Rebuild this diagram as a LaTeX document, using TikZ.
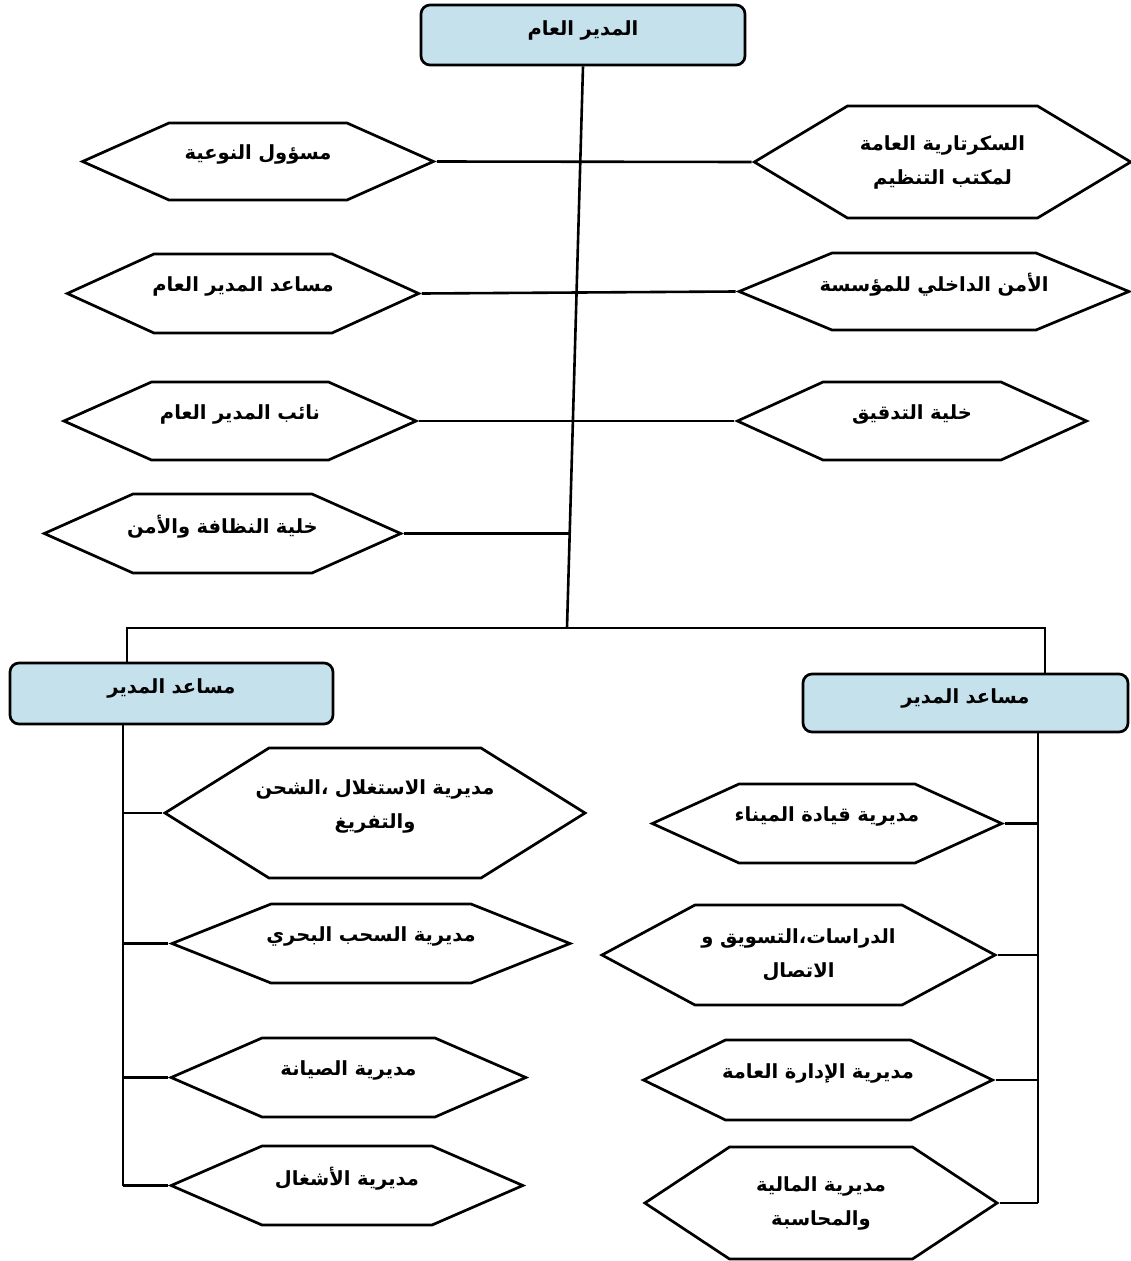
\documentclass[tikz,border=0pt]{standalone}
\usepackage{fontspec}
\newfontfamily\arabicfont[Script=Arabic]{DejaVu Sans}
\TeXXeTstate=1
\usetikzlibrary{shapes.symbols}
\definecolor{boxblue}{RGB}{197,225,235}
\newcommand{\ar}[1]{\makebox[0pt]{\beginR #1\endR}}
\newcommand{\liftgap}[1]{\par\vspace*{#1}}

\begin{document}
\begin{tikzpicture}[x=1pt,y=-1pt]
  \tikzstyle{hexa}=[signal, signal to=west and east, draw, line width=2.7pt, inner xsep=0pt, inner ysep=2pt, align=center, font=\arabicfont\bfseries\fontsize{19.5}{34}\selectfont]
  \tikzstyle{head}=[rectangle, rounded corners=9pt, draw, line width=2.7pt, fill=boxblue, inner xsep=0pt, align=center, font=\arabicfont\bfseries\fontsize{19.5}{34}\selectfont]
  \tikzstyle{lifted}=[execute at end node={\liftgap{14pt}}]
  \tikzstyle{link}=[line width=2.6pt]

  \useasboundingbox (0,0) rectangle (1131,1261);

  \node[head, text width=324, minimum height=60, execute at end node={\liftgap{9pt}}] (gm) at (583,35) {\ar{المدير العام}};

  \node[hexa, lifted, text width=178, minimum height=77, signal pointer angle=48] (nawiyya) at (258,161.5) {\ar{مسؤول النوعية}};
  \node[hexa, text width=190, minimum height=112, signal pointer angle=62] (sec) at (942.5,162) {\ar{السكرتارية العامة}\\\ar{لمكتب التنظيم}};
  \node[hexa, lifted, text width=178, minimum height=79, signal pointer angle=49] (mosaed) at (243,293.5) {\ar{مساعد المدير العام}};
  \node[hexa, lifted, text width=204, minimum height=77, signal pointer angle=45] (amn) at (934,291.5) {\ar{الأمن الداخلي للمؤسسة}};
  \node[hexa, lifted, text width=177, minimum height=78, signal pointer angle=48] (naib) at (240,421) {\ar{نائب المدير العام}};
  \node[hexa, lifted, text width=178, minimum height=78, signal pointer angle=49] (tadqiq) at (912,421) {\ar{خلية التدقيق}};
  \node[hexa, lifted, text width=179, minimum height=79, signal pointer angle=48] (nadhafa) at (222.5,533.5) {\ar{خلية النظافة والأمن}};

  \node[head, text width=323, minimum height=61, execute at end node={\liftgap{10pt}}] (asstL) at (171.5,693.5) {\ar{مساعد المدير}};
  \node[head, text width=325, minimum height=58, execute at end node={\liftgap{9pt}}] (asstR) at (965.5,703) {\ar{مساعد المدير}};

  \node[hexa, lifted, text width=212, minimum height=130, signal pointer angle=64] (istighlal) at (375,813) {\ar{مديرية الاستغلال ،الشحن}\\\ar{والتفريغ}};
  \node[hexa, lifted, text width=200, minimum height=79, signal pointer angle=43.5] (sahb) at (371,943.5) {\ar{مديرية السحب البحري}};
  \node[hexa, lifted, text width=173, minimum height=79, signal pointer angle=47] (siyana) at (348.5,1077.5) {\ar{مديرية الصيانة}};
  \node[hexa, lifted, text width=170, minimum height=79, signal pointer angle=47] (ashghal) at (347,1185.5) {\ar{مديرية الأشغال}};

  \node[hexa, lifted, text width=176, minimum height=79, signal pointer angle=49] (qiyada) at (827,823.5) {\ar{مديرية قيادة الميناء}};
  \node[hexa, text width=207, minimum height=100, signal pointer angle=56.5] (dirasat) at (798.5,955) {\ar{الدراسات،التسويق و}\\\ar{الاتصال}};
  \node[hexa, lifted, text width=185, minimum height=80, signal pointer angle=52] (idara) at (818,1080) {\ar{مديرية الإدارة العامة}};
  \node[hexa, text width=183, minimum height=112, signal pointer angle=67] (maliya) at (821,1203) {\ar{مديرية المالية}\\\ar{والمحاسبة}};

  \coordinate (hub) at (567,628);
  \coordinate (j4) at (569.7,533.5);
  \coordinate (busL) at (127,628);
  \coordinate (busR) at (1045,628);
  \coordinate (spineL) at (123,0);
  \coordinate (spineR) at (1038,0);

  % trunk and the staff rows
  \draw[link] (gm.south) -- (hub);
  \draw[link] (nawiyya.east) -- (sec.west);
  \draw[link] (mosaed.east) -- (amn.west);
  \draw[link] (naib.east) -- (tadqiq.west);
  \draw[link] (nadhafa.east) -- (j4);

  % bus to the two assistants
  \draw[link] (asstL.north -| busL) -- (busL) -- (busR) -- (asstR.north -| busR);

  % directorates
  \draw[link] (asstL.south -| spineL) -- (ashghal.west -| spineL);
  \foreach \n in {istighlal,sahb,siyana,ashghal}
    \draw[link] (\n.west -| spineL) -- (\n.west);
  \draw[link] (asstR.south -| spineR) -- (maliya.east -| spineR);
  \foreach \n in {qiyada,dirasat,idara,maliya}
    \draw[link] (\n.east) -- (\n.east -| spineR);
\end{tikzpicture}
\end{document}
